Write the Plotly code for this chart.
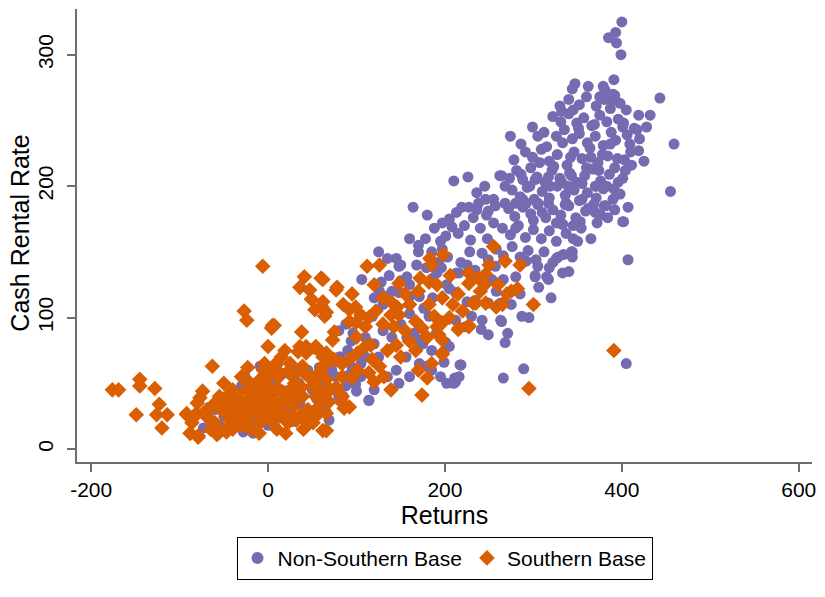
import plotly.graph_objects as go

# ---------------- data ----------------
nonsouth_x = [
    # low cluster
    -17, -28, -73, -26, -7, -4, 21, 30, 13, 21, 28, 43, 62, 66, -21, 77, 90, 99, 114, 69, 66, 81, 21, 36, -9, -2, 50, 61,
    -40, -35, -50, -10, 0, 5, 15, 35, 45, 55, 75, 85, 95, 105, 110, -45, -30, -15, 0, 10, 25, 40, 58, 72, 88, 100, -55, -60,
    # mid cluster
    106, 148, 168, 179, 128, 137, 157, 191, 216, 225, 234, 126, 133, 148, 160, 171, 225, 234, 105, 118, 160, 171, 182, 212,
    223, 230, 157, 171, 185, 201, 94, 81, 73, 156, 145, 171, 178, 199, 218, 212, 148, 114, 99, 66,
    210, 226, 262, 273, 286, 302, 317, 332, 343, 238, 246, 249, 219, 227, 268, 280, 292, 305, 317, 336, 333, 343, 326, 305,
    302, 315, 208, 201, 215, 229, 197, 203, 193, 242, 249, 257, 253, 266, 280, 249, 263, 213, 202, 212,
    164, 180, 197, 145, 150, 125, 135, 170, 185, 160,
    170, 178, 188, 195, 205, 213, 222, 232, 240, 248, 255, 236, 245, 255, 228, 218, 186, 196, 205, 160, 150, 140, 130, 120,
    176, 186,
    80, 88, 96, 110, 120, 130, 140, 150, 165, 175, 190, 205, 90, 105, 125, 135, 160, 185, 195, 120, 80, 60,
    217, 211, 202, 266, 289, 268, 271, 249, 241, 287, 264, 242, 263, 218, 216, 210,
    306, 317, 302, 333, 344, 344, 328, 337, 353, 333, 355, 370, 380, 407, 401, 407,
    300, 285, 320, 275, 258, 295,
    # upper cluster
    400, 393, 385, 394, 399, 391, 379, 381, 347, 344, 443, 330, 299, 459, 455, 419, 432, 392, 388, 414, 274, 305, 264,
    405, 370, 402, 382, 371,
    340, 352, 360, 371, 380, 387, 398, 405,
    322, 331, 340, 349, 357, 366, 375, 383, 396, 401,
    312, 326, 335, 344, 352, 361, 370, 379, 388, 393, 406, 409, 417, 420,
    291, 299, 309, 318, 327, 338, 346, 355, 364, 373, 384, 392, 403, 410, 425,
    281, 288, 297, 304, 313, 321, 330, 341, 349, 358, 367, 376, 386, 396, 404,
    276, 285, 293, 301, 310, 318, 327, 336, 346, 352, 361, 371, 379, 390, 398,
    272, 279, 288, 297, 305, 314, 322, 331, 340, 348, 359, 368, 376,
    265, 274, 283, 291, 300, 309, 318, 326, 337, 345, 354,
    258, 266, 276, 285, 294, 303, 312, 322, 334,
    315, 323, 333, 342, 351, 360, 369, 378, 387, 395, 402, 411, 419, 428, 296, 307, 319, 339, 355, 365,
    374, 383, 391, 401, 362, 372, 384, 392, 345, 326, 310, 300, 288, 280, 292, 318, 340, 350, 365, 332,
    345, 375, 390, 362, 286, 278, 268, 257, 247, 236,
]
nonsouth_y = [
    12, 13, 16, 55, 61, 64, 58, 59, 28, 30, 21, 20, 35, 28, 45, 55, 56, 53, 37, 22, 70, 70, 30, 35, 63, 55, 45, 50,
    30, 22, 25, 35, 40, 50, 45, 50, 60, 38, 45, 40, 62, 55, 70, 40, 48, 20, 18, 15, 38, 28, 62, 60, 48, 44, 18, 30,
    129, 139, 140, 138, 127, 132, 131, 134, 134, 140, 136, 120, 116, 119, 116, 116, 112, 113, 102, 101, 103, 93, 101, 98,
    93, 101, 85, 83, 75, 81, 82, 70, 65, 70, 60, 65, 63, 66, 64, 51, 50, 37, 49, 58,
    204, 207, 208, 206, 209, 205, 207, 203, 208, 187, 190, 181, 184, 184, 187, 187, 187, 187, 187, 186, 171, 150, 145, 139,
    131, 131, 169, 162, 164, 159, 152, 146, 142, 149, 144, 139, 129, 129, 131, 111, 111, 134, 125, 119,
    184, 178, 172, 145, 140, 150, 145, 155, 150, 160,
    150, 160, 168, 158, 175, 180, 170, 176, 168, 160, 172, 195, 200, 190, 150, 142, 130, 138, 122, 125, 128, 120, 110, 115,
    107, 115,
    90, 95, 88, 85, 80, 90, 85, 95, 88, 80, 88, 78, 75, 65, 70, 55, 55, 60, 55, 45, 40, 55,
    64, 54, 50, 54, 61, 81, 88, 87, 91, 101, 97, 98, 98, 64, 55, 50,
    123, 129, 132, 134, 150, 146, 146, 187, 173, 171, 190, 200, 185, 184, 173, 144,
    110, 118, 115, 110, 120, 100,
    325, 317, 313, 309, 300, 281, 276, 273, 278, 274, 267, 261, 245, 232, 196, 254, 254, 269, 264, 244, 238, 238, 208,
    65, 180, 173, 185, 200,
    266, 262, 268, 261, 266, 259, 263, 258,
    253, 249, 255, 248, 252, 246, 254, 249, 251, 245,
    241, 238, 243, 236, 240, 233, 238, 231, 241, 235, 239, 232, 243, 236,
    226, 222, 228, 219, 224, 216, 226, 221, 229, 218, 223, 214, 220, 226, 219,
    212, 205, 214, 207, 203, 212, 206, 210, 203, 208, 213, 204, 209, 203, 212,
    197, 192, 199, 190, 196, 191, 200, 193, 197, 189, 195, 191, 198, 190, 194,
    183, 177, 184, 179, 186, 176, 182, 178, 185, 176, 181, 186, 178,
    168, 163, 170, 161, 167, 160, 166, 158, 164, 160, 168,
    152, 147, 154, 146, 151, 144, 150, 142, 148,
    230, 215, 233, 222, 244, 214, 247, 224, 232, 221, 248, 216, 227, 245, 200, 218, 200, 200, 202, 222,
    212, 200, 198, 206, 183, 172, 176, 182, 170, 172, 180, 174, 190, 168, 143, 138, 135, 158, 160, 257,
    258, 268, 270, 276, 232, 220, 200, 185, 178, 182,
]

south_x = [
    -176, -169, -145, -145, -128, -149, -123, -114, -126, -120, -92, -81, -86, -88, -79, -63, -74, -77, -56, -47,
    -6, -27, -24, 5, 4, 0, -23, 19, 34, 43, 54, 66, 9, 13, 24, 39, 49, 58, 66, -13, -2, 2, 13, 28, 39, 54, 66,
    -92, -81, -69, -58, -47, -36, -24, -9, 6, 17, 28, 43, 54, 66, -88, -79, -58, -47, -36, -24, -9, 6, 21, 32, 51, 62,
    -60, -50, -40, -30, -20, -10, 0, -45, -35, -25, -15, -5, 5, 15, -55, -65, -40, -30, -20, -10, 0, 10, 20, 30, -33,
    -18, -8, -42, -28, -12,
    -50, -30, -20, -40, -50, -60, -70, -80, -65, 10, 20, 40, 30, 45, 50, 25, 15, -5,
    41, 36, 47, 60, 78, 49, 53, 64, 61, 7, 38, 36, 43, 53, 61, 66, 75, 84, 92, -4, 9, 2, 11, -9, 28, 39, 47, 54, 38,
    58, 69, 77, 84, 92, 9, 21, -2, 7, 24, 32, -7, 2, 13, 24, 36, 47, 54, 66, 86,
    62, 77, 112, 126, 148, 182, 191, 206, 227, 197, 209, 232, 62, 66, 92, 99, 105, 92, 99, 114, 110, 139, 146, 139, 148,
    142, 167, 174, 182, 188, 191, 193, 216, 227, 75, 73, 145, 167, 116, 197, 62, 69, 62, 83, 101, 101, 118, 126, 131,
    114, 120, 95, 84, 78, 139, 180, 174, 69, 84, 62,
    85, 95, 120, 130, 155, 160, 170, 122, 130, 155, 160, 180, 150, 135, 100, 110, 170, 185, 205, 215, 220, 240,
    250, 260, 275, 285, 300, 185, 198, 172, 270, 245, 258,
    255, 268, 246, 227, 282, 235, 246, 265, 215, 227, 197, 197, 197, 183, 238, 391, 295,
]
south_y = [
    45, 45, 53, 48, 46, 26, 34, 26, 26, 16, 26, 26, 20, 12, 10, 63, 44, 39, 12, 13,
    139, 105, 98, 94, 92, 78, 62, 75, 74, 78, 78, 73, 65, 58, 60, 63, 55, 58, 53, 50, 53, 45, 45, 47, 40, 40, 42,
    27, 27, 30, 32, 40, 42, 37, 32, 30, 27, 25, 25, 30, 27, 12, 9, 11, 16, 18, 21, 20, 22, 21, 22, 20, 14,
    20, 28, 25, 30, 28, 25, 35, 35, 32, 45, 40, 45, 38, 35, 40, 22, 15, 18, 15, 12, 28, 25, 40, 33, 38,
    33, 40, 22, 24, 30,
    50, 55, 50, 45, 35, 35, 25, 35, 15, 15, 12, 15, 50, 30, 48, 65, 70, 60,
    131, 123, 121, 130, 123, 114, 106, 101, 108, 94, 89, 78, 73, 77, 73, 65, 68, 65, 68, 65, 64, 58, 54, 53, 55, 59, 54, 53, 47,
    45, 46, 47, 40, 32, 45, 43, 37, 32, 35, 40, 27, 22, 25, 21, 25, 20, 25, 14, 31,
    129, 121, 139, 140, 126, 127, 125, 132, 134, 115, 110, 111, 112, 104, 106, 108, 102, 97, 96, 100, 93, 112, 108, 102, 102,
    93, 97, 92, 110, 101, 93, 87, 92, 93, 89, 83, 79, 75, 79, 72, 70, 68, 63, 65, 73, 60, 68, 63, 55,
    58, 51, 54, 55, 46, 45, 54, 41, 36, 35, 37,
    110, 118, 125, 115, 118, 110, 120, 105, 95, 90, 82, 85, 70, 75, 85, 78, 60, 65, 100, 118, 105, 120,
    140, 125, 120, 140, 110, 140, 148, 130, 118, 125, 108,
    154, 143, 133, 126, 122, 111, 111, 110, 91, 94, 83, 73, 96, 145, 130, 75, 46,
]

x_ticks = [-200, 0, 200, 400, 600]
x_tick_text = ["-200", "0", "200", "400", "600"]
y_ticks = [0, 100, 200, 300]

FONT = "Liberation Sans, Arial, sans-serif"
PURPLE = "#756bb1"
ORANGE = "#d95f02"

fig = go.Figure()
fig.add_trace(go.Scatter(
    x=nonsouth_x, y=nonsouth_y, mode="markers", name="Non-Southern Base",
    marker=dict(symbol="circle", size=11, color=PURPLE, line=dict(width=0)),
))
fig.add_trace(go.Scatter(
    x=south_x, y=south_y, mode="markers", name="Southern Base",
    marker=dict(symbol="diamond", size=12, color=ORANGE, line=dict(width=0)),
))

axis_common = dict(
    showgrid=False, zeroline=False, showline=True, linecolor="#6e6e6e", linewidth=1.5,
    ticks="outside", ticklen=8, tickwidth=1.5, tickcolor="#6e6e6e",
    tickfont=dict(family=FONT, size=21, color="black"), mirror=False,
)

fig.update_layout(
    width=825, height=597,
    margin=dict(l=77, r=10, t=9, b=135),
    paper_bgcolor="white", plot_bgcolor="white",
    font=dict(family=FONT, color="black"),
    xaxis=dict(range=[-216, 615], tickvals=x_ticks, ticktext=x_tick_text,
               title=dict(text="Returns", font=dict(family=FONT, size=25), standoff=0),
               **axis_common),
    yaxis=dict(range=[-9.9, 334.8], tickvals=y_ticks, tickangle=-90, ticklabelstandoff=6,
               **axis_common),
    legend=dict(orientation="h", x=0.5, xanchor="center", y=-0.165, yanchor="top",
                bordercolor="black", borderwidth=1, bgcolor="white",
                font=dict(family=FONT, size=21), itemsizing="constant"),
    annotations=[dict(text="Cash Rental Rate", xref="paper", yref="paper",
                      x=-0.077, y=0.505, xanchor="center", yanchor="middle",
                      textangle=-90, showarrow=False,
                      font=dict(family=FONT, size=25, color="black"))],
)

fig.write_html("out.html")
